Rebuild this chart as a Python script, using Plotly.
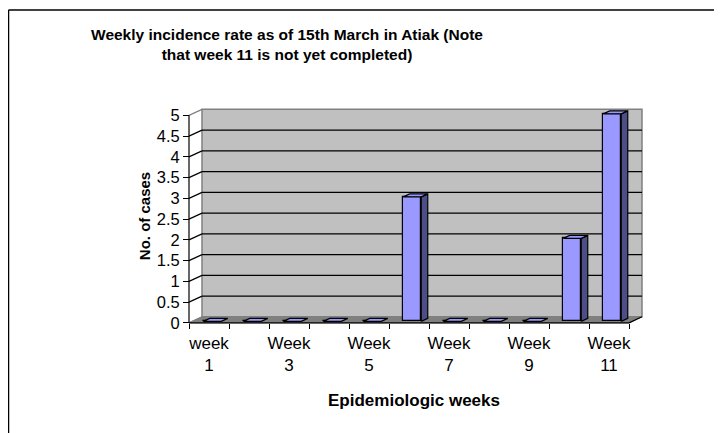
import plotly.graph_objects as go

# ---- data ----
categories = ["week 1", "Week 2", "Week 3", "Week 4", "Week 5", "Week 6",
              "Week 7", "Week 8", "Week 9", "Week 10", "Week 11"]
cases = [0, 0, 0, 0, 0, 3, 0, 0, 0, 2, 5]
y_ticks = [0, 0.5, 1, 1.5, 2, 2.5, 3, 3.5, 4, 4.5, 5]
title_text = "Weekly incidence rate as of 15th March in Atiak (Note<br>that week 11 is not yet completed)"
x_title = "Epidemiologic weeks"
y_title = "No. of cases"

# ---- geometry of the pseudo-3D look ----
DX, DY = 0.325, 0.145          # depth offset (x units, y units)
BW = 0.45                      # bar width
OX, OY = 0.25 * DX, 0.25 * DY  # bar front offset inside depth
DX2, DY2 = 0.5 * DX, 0.5 * DY  # bar depth
n = len(categories)
xs = list(range(1, n + 1))
YMAX = 5
X0, X1 = 0.5, n + 0.5
XR = [0.35, 11.9]
YR = [-0.1, 5.25]

# the page body adds an 8px offset; margins compensate for it
OFF = 8

FONT = "Arial, Liberation Sans, sans-serif"
FRONT = "#9999FF"
SIDE = "#4D4D88"
TOP = "#9999FF"

fig = go.Figure()

# bar front faces
fig.add_trace(go.Bar(
    x=[c + OX for c in xs], y=cases, base=OY, width=BW,
    marker=dict(color=FRONT, line=dict(color="black", width=1.2)),
    hoverinfo="skip", showlegend=False))

# side faces
sx, sy = [], []
for c, v in zip(xs, cases):
    r = c + OX + BW / 2
    if v > 0:
        sx += [r, r + DX2, r + DX2, r, r, None]
        sy += [OY, OY + DY2, v + OY + DY2, v + OY, OY, None]
fig.add_trace(go.Scatter(x=sx, y=sy, mode="lines", fill="toself", fillcolor=SIDE,
                         line=dict(color="black", width=1.2), hoverinfo="skip", showlegend=False))

# top faces
tx, ty = [], []
for c, v in zip(xs, cases):
    l = c + OX - BW / 2
    r = c + OX + BW / 2
    t = v + OY
    tx += [l, r, r + DX2, l + DX2, l, None]
    ty += [t, t, t + DY2, t + DY2, t, None]
fig.add_trace(go.Scatter(x=tx, y=ty, mode="lines", fill="toself", fillcolor=TOP,
                         line=dict(color="black", width=1.2), hoverinfo="skip", showlegend=False))

shapes = []
# back wall
shapes.append(dict(type="rect", xref="x", yref="y", x0=X0 + DX, x1=X1 + DX, y0=DY, y1=YMAX + DY,
                   fillcolor="#C0C0C0", line=dict(color="#808080", width=1.5), layer="below"))
# floor
shapes.append(dict(type="path", xref="x", yref="y",
                   path=f"M{X0},0 L{X1},0 L{X1 + DX},{DY} L{X0 + DX},{DY} Z",
                   fillcolor="#808080", line=dict(color="#808080", width=1), layer="below"))
# gridlines on back wall and side wall
for v in y_ticks[1:]:
    col = "black" if v < YMAX else "#808080"
    if v < YMAX:
        shapes.append(dict(type="line", xref="x", yref="y", x0=X0 + DX, x1=X1 + DX, y0=v + DY, y1=v + DY,
                           line=dict(color="black", width=1.2), layer="below"))
    shapes.append(dict(type="line", xref="x", yref="y", x0=X0, x1=X0 + DX, y0=v, y1=v + DY,
                       line=dict(color=col, width=1.2), layer="below"))
# front-left vertical axis line
shapes.append(dict(type="line", xref="x", yref="y", x0=X0, x1=X0, y0=0, y1=YMAX,
                   line=dict(color="black", width=1.2)))
shapes.append(dict(type="line", xref="x", yref="y", x0=X0, x1=X0 + DX, y0=0, y1=DY,
                   line=dict(color="#808080", width=1.2), layer="below"))
# front floor edge (x axis line) and right slant
shapes.append(dict(type="line", xref="x", yref="y", x0=X0, x1=X1, y0=0, y1=0,
                   line=dict(color="black", width=1.2)))
shapes.append(dict(type="line", xref="x", yref="y", x0=X1, x1=X1 + DX, y0=0, y1=DY,
                   line=dict(color="black", width=1.2)))

ML, MT = 183 - OFF, 105 - OFF
PW, PH = 462, 222
# outer chart frame (top and left edges), in paper units of the plot area
fx = (0.5 - ML) / PW
fy = 1 + (MT - 2) / PH
shapes.append(dict(type="line", xref="paper", yref="paper", x0=fx, x1=1.5, y0=fy, y1=fy,
                   line=dict(color="black", width=1.5)))
shapes.append(dict(type="line", xref="paper", yref="paper", x0=fx, x1=fx, y0=fy, y1=-0.6,
                   line=dict(color="black", width=1.5)))

ypos = (0 - YR[0]) / (YR[1] - YR[0])
xpos = (X0 - XR[0]) / (XR[1] - XR[0])

fig.update_layout(
    width=722, height=433,
    margin=dict(l=ML, r=722 - ML - PW, t=MT, b=433 - MT - PH),
    paper_bgcolor="white", plot_bgcolor="white",
    bargap=0, barmode="overlay",
    shapes=shapes,
    font=dict(family=FONT, color="black"),
    title=dict(text=f"<b>{title_text}</b>", x=(287 - OFF) / 722, xref="container", xanchor="center",
               y=0.9265, yref="container", yanchor="top",
               font=dict(family=FONT, size=15.5, color="black")),
    xaxis=dict(range=XR, anchor="free", position=ypos, showgrid=False, zeroline=False,
               showline=False, tickmode="array", tickvals=xs[::2],
               ticktext=[c.replace(" ", "<br>") for c in categories[::2]],
               ticks="", tickfont=dict(size=17, family=FONT), ticklabelstandoff=8,
               title=dict(text=f"<b>{x_title}</b>", font=dict(size=17, family=FONT), standoff=20)),
    xaxis2=dict(range=XR, overlaying="x", anchor="free", position=ypos, side="bottom",
                showgrid=False, zeroline=False, showline=False, tickmode="array",
                tickvals=[X0 + i for i in range(n + 1)], ticktext=[""] * (n + 1),
                ticks="outside", ticklen=5, tickcolor="black", tickwidth=1.2, showticklabels=False),
    yaxis=dict(range=YR, anchor="free", position=xpos, showgrid=False, zeroline=False, showline=False,
               tickmode="array", tickvals=y_ticks, ticktext=[f"{v:g}" for v in y_ticks],
               ticks="outside", ticklen=6, tickcolor="black", tickwidth=1.2,
               tickfont=dict(size=16.5, family=FONT),
               title=dict(text=f"<b>{y_title}</b>", font=dict(size=15, family=FONT), standoff=1)),
)

# invisible trace to activate xaxis2
fig.add_trace(go.Scatter(x=[X0], y=[0], xaxis="x2", mode="markers", marker=dict(opacity=0),
                         hoverinfo="skip", showlegend=False))

fig.write_html("out.html")
